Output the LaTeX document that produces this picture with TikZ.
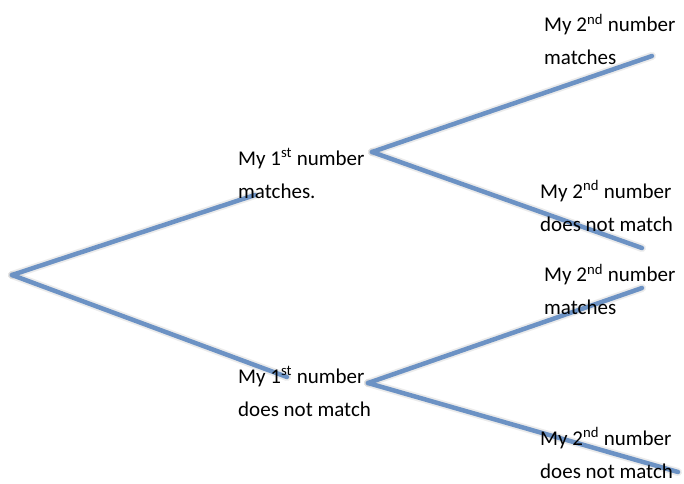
\documentclass[tikz,border=0pt]{standalone}
\usepackage{fontspec}
\setmainfont{Carlito}
\definecolor{branchblue}{RGB}{108,146,196}
\tikzset{
  branch/.style={line width=4.5pt,branchblue,line cap=round},
  shade/.style={line width=8pt,black,opacity=0.08,line cap=round,yshift=-3pt,xshift=1pt},
  leaf/.style={anchor=west,align=left,inner sep=0pt,font=\fontsize{21}{33}\selectfont}
}
\begin{document}
\begin{tikzpicture}[x=1pt,y=-1pt]
        \useasboundingbox (0,0) rectangle (684,483);
        %% branch points and ends
        \coordinate (root) at (12,275);
        \coordinate (up) at (255,195);
        \coordinate (down) at (287,377);
        \coordinate (upfork) at (372,152);
        \coordinate (downfork) at (368,383);
        \coordinate (upup) at (652,56);
        \coordinate (updown) at (642,248);
        \coordinate (downup) at (642,288);
        \coordinate (downdown) at (678,472);
        %% shadows
        \foreach \a/\b in {root/up,root/down,upfork/upup,upfork/updown,downfork/downup,downfork/downdown}
          \draw[shade] (\a) -- (\b);
        %% branches
        \foreach \a/\b in {root/up,root/down,upfork/upup,upfork/updown,downfork/downup,downfork/downdown}
          \draw[branch] (\a) -- (\b);
        %% first number
        \node[leaf] (first match) at (238,173.5) {My 1\textsuperscript{st} number\\matches.};
        \node[leaf] (first miss) at (238,391.5) {My 1\textsuperscript{st} number\\does not match};
        %% second number
        \node[leaf] (second match a) at (544,39.5) {My 2\textsuperscript{nd} number\\matches};
        \node[leaf] (second miss a) at (540,206) {My 2\textsuperscript{nd} number\\does not match};
        \node[leaf] (second match b) at (544,289.5) {My 2\textsuperscript{nd} number\\matches};
        \node[leaf] (second miss b) at (540,453) {My 2\textsuperscript{nd} number\\does not match};
    \end{tikzpicture}
\end{document}
